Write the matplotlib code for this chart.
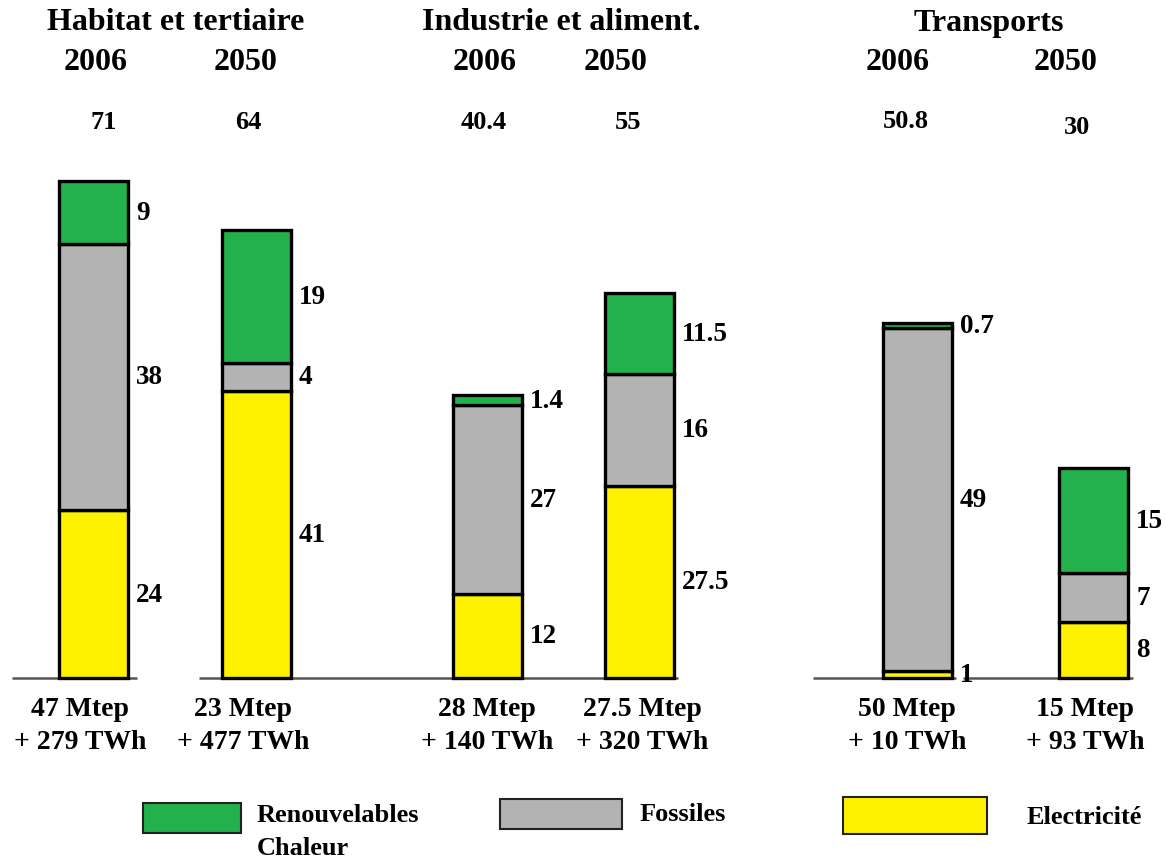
import matplotlib
matplotlib.use("Agg")
import matplotlib.pyplot as plt
from matplotlib.patches import Rectangle

# ---- data ----
sectors = ["Habitat et tertiaire", "Industrie et aliment.", "Transports"]
years = ["2006", "2050", "2006", "2050", "2006", "2050"]
electricite = [24, 41, 12, 27.5, 1, 8]
fossiles = [38, 4, 27, 16, 49, 7]
renouvelables = [9, 19, 1.4, 11.5, 0.7, 15]
totals = ["71", "64", "40.4", "55", "50.8", "30"]
elec_labels = ["24", "41", "12", "27.5", "1", "8"]
foss_labels = ["38", "4", "27", "16", "49", "7"]
ren_labels = ["9", "19", "1.4", "11.5", "0.7", "15"]
bottom_labels = ["47 Mtep\n+ 279 TWh", "23 Mtep\n+ 477 TWh", "28 Mtep\n+ 140 TWh",
                 "27.5 Mtep\n+ 320 TWh", "50 Mtep\n+ 10 TWh", "15 Mtep\n+ 93 TWh"]
legend_labels = ["Renouvelables\nChaleur", "Fossiles", "Electricité"]

# ---- style ----
GREEN = "#22B14C"
GRAY = "#B3B3B3"
YELLOW = "#FFF200"
FONT = "Liberation Serif"

W, H = 1166, 862
BASE = 679.0      # baseline pixel row (from top)
SCALE = 7.0       # pixels per Mtep

fig = plt.figure(figsize=(W / 100, H / 100), dpi=100)
ax = fig.add_axes([0, 0, 1, 1])
ax.set_xlim(0, W)
ax.set_ylim((BASE - H) / SCALE, BASE / SCALE)
ax.axis("off")


def v(ypx):
    """convert a pixel row (from top) to value units"""
    return (BASE - ypx) / SCALE


xc = [93.5, 256, 487.5, 639.5, 917.5, 1093.5]
bw = 69

# baselines
for x0, x1 in [(12, 137), (199, 678), (813, 956), (963, 1133)]:
    ax.plot([x0, x1], [0, 0], color="#555555", lw=1.8, zorder=1, solid_capstyle="butt")

bot2 = [e + f for e, f in zip(electricite, fossiles)]
ax.bar(xc, electricite, bw, color=YELLOW, edgecolor="black", lw=2.4, zorder=2)
ax.bar(xc, fossiles, bw, bottom=electricite, color=GRAY, edgecolor="black", lw=2.4, zorder=2)
ax.bar(xc, renouvelables, bw, bottom=bot2, color=GREEN, edgecolor="black", lw=2.4, zorder=2)

txt = dict(family=FONT, fontweight="bold", color="black")

# segment value labels
for i in range(6):
    xl = xc[i] + bw / 2 + 8
    e, f, r = electricite[i], fossiles[i], renouvelables[i]
    ax.text(xl, e / 2, elec_labels[i], ha="left", va="center", fontsize=19.5, **txt)
    ax.text(xl, e + f / 2, foss_labels[i], ha="left", va="center", fontsize=19.5, **txt)
    ax.text(xl, e + f + r / 2, ren_labels[i], ha="left", va="center", fontsize=19.5, **txt)

# headers
for s, x in zip(sectors, [176, 561, 989]):
    ax.text(x, v(23), s, ha="center", va="center", fontsize=23, **txt)
year_x = [96, 246, 485, 616, 898, 1066]
for y_, x in zip(years, year_x):
    ax.text(x, v(62), y_, ha="center", va="center", fontsize=23, **txt)
tot_x = [104, 248, 484, 628, 906, 1077]
tot_y = [123, 123, 123, 123, 122, 128]
for t, x, yy in zip(totals, tot_x, tot_y):
    ax.text(x, v(yy), t, ha="center", va="center", fontsize=19, **txt)

# bottom labels
bl_x = [80, 243, 487, 642, 907, 1085]
for t, x in zip(bottom_labels, bl_x):
    ax.text(x, v(726), t, ha="center", va="center", fontsize=20, linespacing=1.4, **txt)

# legend
boxes = [(143, 804, 98, 30, GREEN), (500, 800, 122, 30, GRAY), (843, 798, 144, 37, YELLOW)]
for (x0, y0, w, h, c) in boxes:
    ax.add_patch(Rectangle((x0, v(y0 + h)), w, h / SCALE, facecolor=c,
                           edgecolor="#222222", lw=1.5, zorder=2))
ax.text(257, v(804), legend_labels[0], ha="left", va="top", fontsize=19, linespacing=1.55, **txt)
ax.text(640, v(815), legend_labels[1], ha="left", va="center", fontsize=19, **txt)
ax.text(1027, v(818), legend_labels[2], ha="left", va="center", fontsize=19, **txt)

fig.savefig("out.png", dpi=100, facecolor="white")
